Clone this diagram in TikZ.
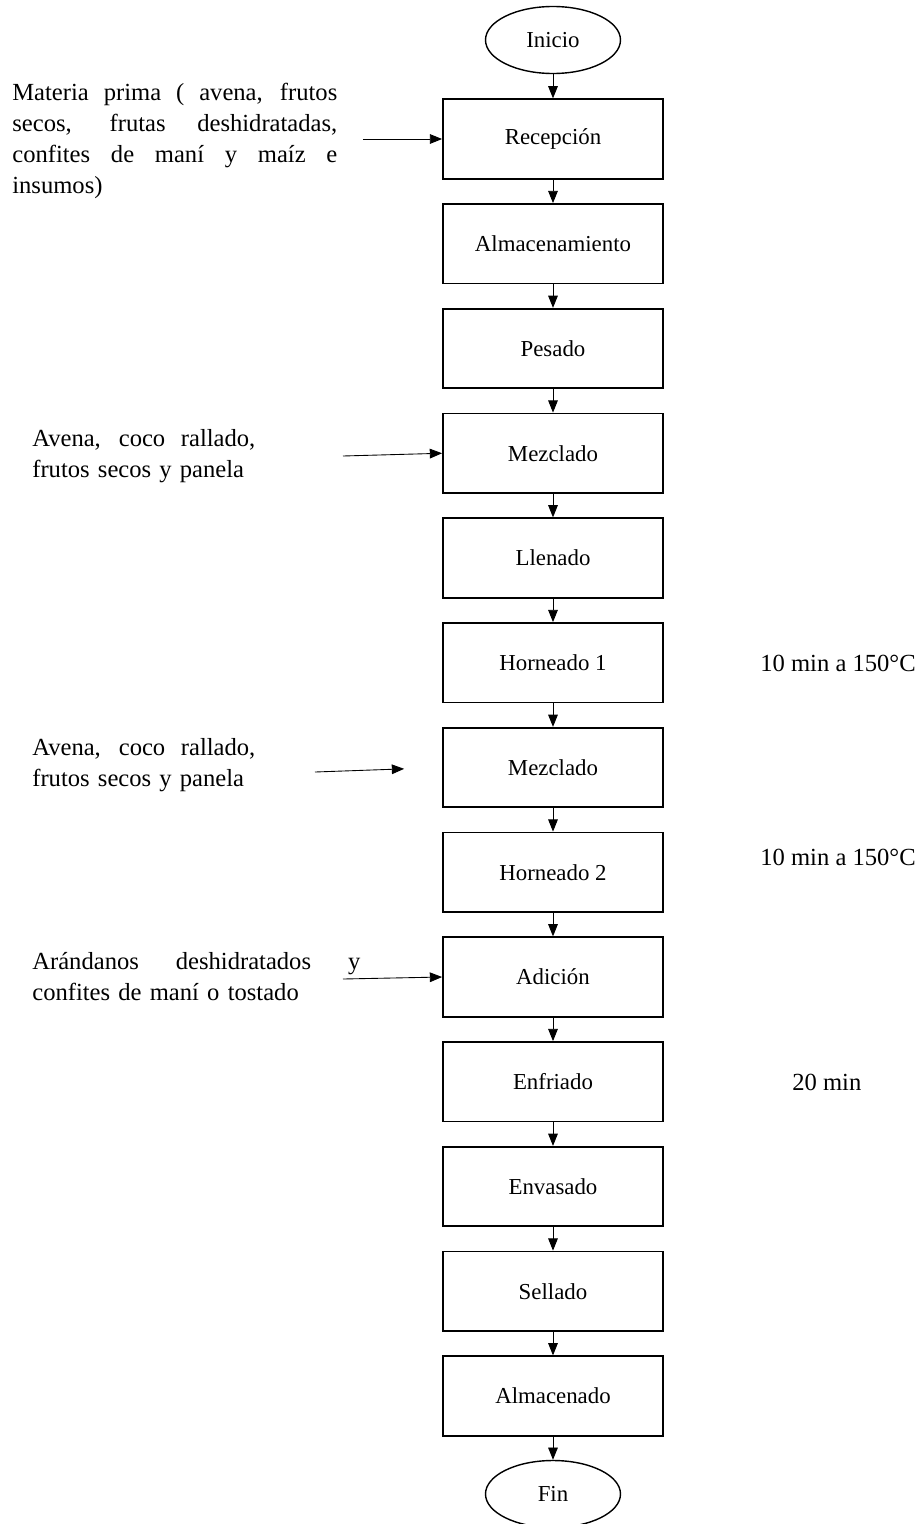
\documentclass[tikz,border=0pt]{standalone}
\usepackage{fontspec}
\setmainfont{Liberation Serif}
\usetikzlibrary{shapes.geometric,arrows.meta}

% one line spread out to a given width (justified)
\newcommand{\jline}[2]{\makebox[#1][s]{\spaceskip=0pt\relax #2}}

\begin{document}
\begin{tikzpicture}
    \def\dy{2.095cm}

    \tikzstyle{txt}=[font=\fontsize{13pt}{17.6pt}\selectfont,inner sep=0pt]
    \tikzstyle{proc}=[txt,draw=black,line width=1pt,minimum width=4.4cm,minimum height=1.59cm]
    \tikzstyle{term}=[txt,draw=black,line width=0.8pt,ellipse,minimum width=2.7cm,minimum height=1.34cm]
    \tikzstyle{note}=[txt,font=\fontsize{14pt}{17.6pt}\selectfont,anchor=west,align=left]

    \useasboundingbox (-11.06,0.685) rectangle (7.4,-29.795);

    \node[term]  (ini) at (0,-0.115) {Inicio};
    \node[proc]  (rec) at (0,-1*\dy) {Recepción};
    \node[proc]  (alm) at (0,-2*\dy) {Almacenamiento};
    \node[proc]  (pes) at (0,-3*\dy) {Pesado};
    \node[proc]  (mez1) at (0,-4*\dy) {Mezclado};
    \node[proc]  (lle) at (0,-5*\dy) {Llenado};
    \node[proc]  (hor1) at (0,-6*\dy) {Horneado 1};
    \node[proc]  (mez2) at (0,-7*\dy) {Mezclado};
    \node[proc]  (hor2) at (0,-8*\dy) {Horneado 2};
    \node[proc]  (adi) at (0,-9*\dy) {Adición};
    \node[proc]  (enf) at (0,-10*\dy) {Enfriado};
    \node[proc]  (env) at (0,-11*\dy) {Envasado};
    \node[proc]  (sel) at (0,-12*\dy) {Sellado};
    \node[proc]  (alma) at (0,-13*\dy) {Almacenado};
    \node[term]  (fin) at (0,-29.195) {Fin};

    % inputs on the left
    \node[note,text width=6.5cm] (mp) at (-10.82,-2.135)
        {\jline{6.5cm}{Materia prima ( avena, frutos}\\
         \jline{6.5cm}{secos, frutas deshidratadas,}\\
         \jline{6.5cm}{confites de maní y maíz e}\\
         insumos)};
    \node[note,text width=4.5cm] (in1) at (-10.42,-8.435)
        {\jline{4.46cm}{Avena, coco rallado,}\\ frutos secos y panela};
    \node[note,text width=4.5cm] (in2) at (-10.42,-14.615)
        {\jline{4.46cm}{Avena, coco rallado,}\\ frutos secos y panela};
    \node[note,text width=6.6cm] (in3) at (-10.42,-18.845)
        {\jline{6.56cm}{Arándanos deshidratados y}\\ confites de maní o tostado};

    % conditions on the right
    \node[note] (c1) at (4.14,-12.575) {10 min a 150°C};
    \node[note] (c2) at (4.14,-16.455) {10 min a 150°C};
    \node[note] (c3) at (4.78,-20.955) {20 min};

    \coordinate (s1) at (-3.8,-1*\dy);
    \coordinate (s2) at (-4.2,-8.435);
    \coordinate (s3) at (-4.76,-14.755);
    \coordinate (s4) at (-4.2,-18.895);

    \pgfsetarrowsend{Triangle[length=7pt,width=5.5pt]}
    \tikzstyle{fwd} = [draw=black, line width=0.5pt]

          \draw [fwd] (ini) -- (rec);
          \draw [fwd] (rec) -- (alm);
          \draw [fwd] (alm) -- (pes);
          \draw [fwd] (pes) -- (mez1);
          \draw [fwd] (mez1) -- (lle);
          \draw [fwd] (lle) -- (hor1);
          \draw [fwd] (hor1) -- (mez2);
          \draw [fwd] (mez2) -- (hor2);
          \draw [fwd] (hor2) -- (adi);
          \draw [fwd] (adi) -- (enf);
          \draw [fwd] (enf) -- (env);
          \draw [fwd] (env) -- (sel);
          \draw [fwd] (sel) -- (alma);
          \draw [fwd] (alma) -- (fin);

          \draw [fwd] (s1) -- (rec.west);
          \draw [fwd] (s2) -- (mez1.west);
          \draw [fwd,shorten >=0.76cm] (s3) -- (mez2.west);
          \draw [fwd] (s4) -- (adi.west);

  \end{tikzpicture}
\end{document}
